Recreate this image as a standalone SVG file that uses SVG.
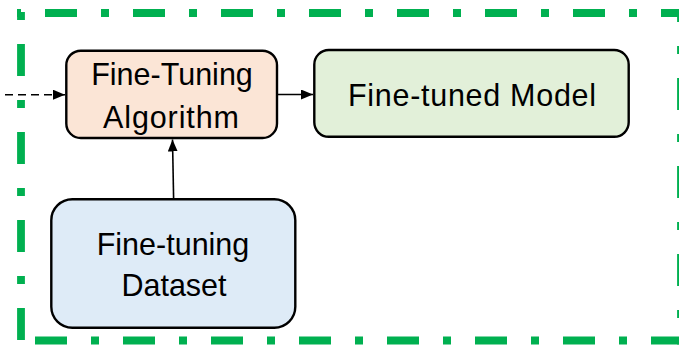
<svg xmlns="http://www.w3.org/2000/svg" width="679" height="346" viewBox="0 0 679 346">
  <style>
    .frame { stroke: #00B050; stroke-width: 7.8; fill: none; stroke-dasharray: 32 24 8 24; }
    .box { stroke: #000; stroke-width: 2.4; }
    .label { font-family: "Liberation Sans", Arial, sans-serif; font-size: 30.5px; fill: #000; text-anchor: middle; }
    .link { stroke: #000; stroke-width: 1.6; fill: none; }
  </style>
  <defs>
    <marker id="arrow" markerUnits="userSpaceOnUse" markerWidth="12" markerHeight="10" refX="12" refY="5" orient="auto">
      <path d="M0,0 L12,5 L0,10 Z" fill="#000"/>
    </marker>
  </defs>

  <rect width="679" height="346" fill="#fff"/>

  <!-- dash-dot boundary frame, one line per side -->
  <g id="frame">
    <line class="frame" x1="17" y1="13" x2="685" y2="13" stroke-dashoffset="60"/>
    <line class="frame" x1="21" y1="9" x2="21" y2="344.5" stroke-dashoffset="53"/>
    <line class="frame" x1="17" y1="340.5" x2="685" y2="340.5" stroke-dashoffset="70"/>
    <line class="frame" x1="681" y1="9" x2="681" y2="344.5" stroke-dashoffset="19"/>
  </g>

  <g id="connectors">
    <line class="link" x1="5" y1="94.7" x2="65" y2="94.7" stroke-dasharray="8 5" marker-end="url(#arrow)"/>
    <line class="link" x1="277.5" y1="94.5" x2="313" y2="94.5" marker-end="url(#arrow)"/>
    <line class="link" x1="173.6" y1="198" x2="172.5" y2="139.5" marker-end="url(#arrow)"/>
  </g>

  <g id="fine-tuning-algorithm">
    <rect class="box" x="66.3" y="50.7" width="210.7" height="87.3" rx="14.5" fill="#FBE5D6"/>
    <text class="label" x="172" y="85">Fine-Tuning</text>
    <text class="label" x="171" y="127.7" textLength="136">Algorithm</text>
  </g>

  <g id="fine-tuned-model">
    <rect class="box" x="314.3" y="50" width="314.4" height="86.8" rx="14.5" fill="#E2F0D9"/>
    <text class="label" x="472" y="106" textLength="248">Fine-tuned Model</text>
  </g>

  <g id="fine-tuning-dataset">
    <rect class="box" x="51.3" y="199.3" width="244" height="128.4" rx="21" fill="#DEEBF7"/>
    <text class="label" x="173" y="254.7">Fine-tuning</text>
    <text class="label" x="174" y="296">Dataset</text>
  </g>
</svg>
